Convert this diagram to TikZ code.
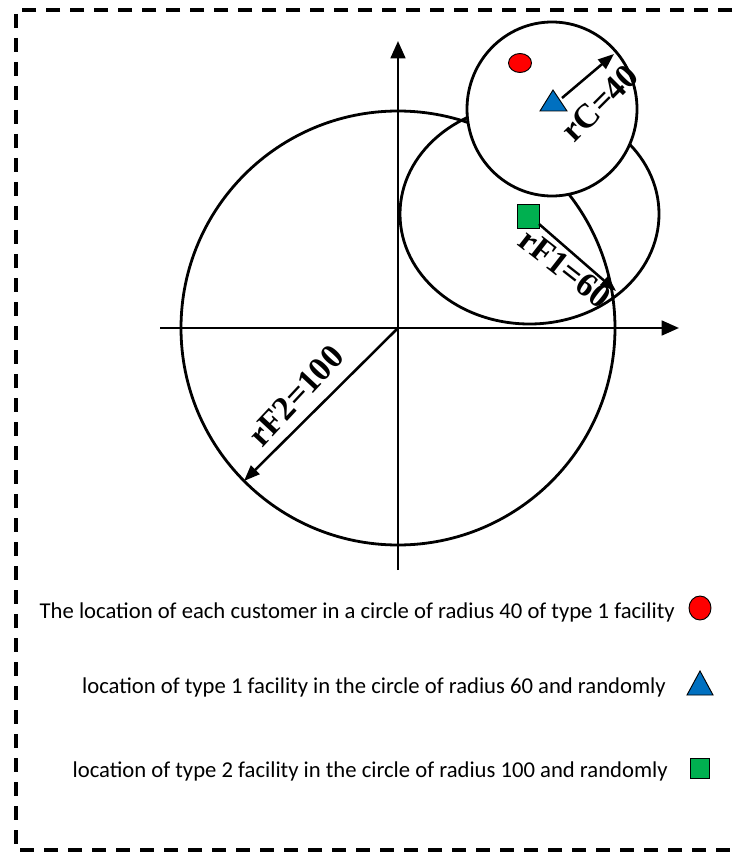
\documentclass[tikz,border=0pt]{standalone}
\usepackage{fontspec}
\setmainfont{Liberation Serif}
\newfontfamily\legfont{Carlito}
\usetikzlibrary{arrows.meta,shapes.geometric}
\begin{document}
\begin{tikzpicture}[x=0.75pt,y=-0.75pt,
  ring/.style={line width=2.1pt},
  axis/.style={line width=2pt,-{Triangle[length=13pt,width=11pt]}},
  radarrow/.style={line width=1.9pt,-{Triangle[length=12pt,width=9pt]}},
  radlabel/.style={font=\bfseries\fontsize{25.5}{25.5}\selectfont,inner sep=0pt},
  legtext/.style={font=\legfont\fontsize{17}{17}\selectfont,anchor=base east,inner sep=0pt},
  markshape/.style={draw=black,line width=0.7pt}]
\useasboundingbox (0,0) rectangle (737,852);
% dashed frame (right side lies outside the picture)
\draw[line width=2.4pt,dash pattern=on 10.5pt off 7.5pt] (780,10) -- (16,10) -- (16,850) -- (780,850);
% big circle rF2
\coordinate (O) at (398,328);
\draw[ring] (O) circle [radius=217];
% axes
\coordinate (xs) at (160,328); \coordinate (xe) at (679,328);
\coordinate (ys) at (398,570); \coordinate (ye) at (398,41);
\draw[axis] (xs) -- (xe);
\draw[axis] (ys) -- (ye);
% medium circle rF1
\coordinate (F1) at (529.5,214);
\draw[ring] (F1) ellipse [x radius=129.5, y radius=110];
% small circle rC
\coordinate (C) at (552,109);
\draw[ring,fill=white] (C) ellipse [x radius=85, y radius=87];
% markers in the plot
\coordinate (cust) at (520,63);
\draw[markshape,fill=red] (cust) ellipse [x radius=11.5, y radius=9.5];
\coordinate (tri) at (553,103);
\draw[markshape,fill={rgb,255:red,0;green,112;blue,192}] (540,111) -- (553,90) -- (567,111) -- cycle;
\coordinate (sq) at (528,216);
\draw[markshape,fill={rgb,255:red,0;green,176;blue,80}] (517,204) rectangle (539,228);
% radius arrows
\coordinate (rCend) at (614,54);
\coordinate (rF1end) at (616,291);
\coordinate (rF2end) at (244,481);
\draw[radarrow] (562,98) -- (rCend);
\draw[radarrow] (539,224) -- (rF1end);
\draw[radarrow] (O) -- (rF2end);
% radius labels
\node[radlabel,rotate=45] (lC) at (600,103) {rC=40};
\node[radlabel,rotate=-38] (lF1) at (565,268) {rF1=60};
\node[radlabel,rotate=47] (lF2) at (296,396) {rF2=100};
% legend
\node[legtext] (t1) at (675,618) {The location of each customer in a circle of radius 40 of type 1 facility};
\node[legtext] (t2) at (666,693) {location of type 1 facility in the circle of radius 60 and randomly};
\node[legtext] (t3) at (668,777) {location of type 2 facility in the circle of radius 100 and randomly};
\coordinate (m1) at (700,608);
\draw[markshape,fill=red] (m1) ellipse [x radius=11, y radius=12];
\draw[markshape,fill={rgb,255:red,0;green,112;blue,192}] (687,695) -- (700,671) -- (713,695) -- cycle;
\draw[markshape,fill={rgb,255:red,0;green,176;blue,80}] (690,758) rectangle (709,778);
\end{tikzpicture}
\end{document}
